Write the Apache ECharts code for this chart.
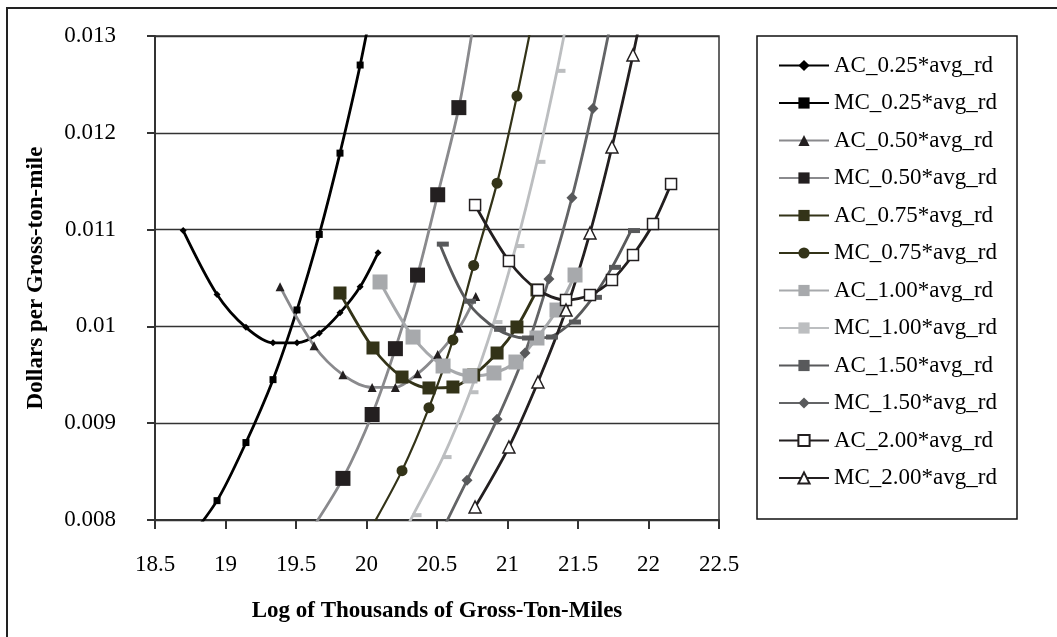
<!DOCTYPE html>
<html>
<head>
<meta charset="utf-8">
<script src="https://cdn.jsdelivr.net/npm/echarts@6/dist/echarts.min.js"></script>
<style>
  html, body { margin: 0; padding: 0; background: #fff; }
  #chart { width: 1057px; height: 637px; }
</style>
</head>
<body>
<div id="chart"></div>
<script>
// x 值（每组 rd 共用）
var x025 = [18.70, 18.94, 19.145, 19.337, 19.507, 19.665, 19.812, 19.955, 20.082];
var x050 = [19.387, 19.628, 19.833, 20.04, 20.205, 20.362, 20.505, 20.655, 20.775];
var x075 = [19.812, 20.046, 20.252, 20.443, 20.613, 20.76, 20.926, 21.067, 21.209];
var x100 = [20.096, 20.33, 20.543, 20.734, 20.904, 21.06, 21.209, 21.351, 21.479];
var x150 = [20.52, 20.713, 20.926, 21.124, 21.294, 21.457, 21.606, 21.741, 21.876];
var x200 = [20.77, 21.01, 21.216, 21.415, 21.585, 21.741, 21.89, 22.032, 22.16];

// 平均成本 / 边际成本
var ac025 = [0.01099, 0.01033, 0.00999, 0.00983, 0.00983, 0.00993, 0.01014, 0.01041, 0.01076];
var mc025 = [0.00773, 0.00820, 0.00880, 0.00945, 0.01017, 0.01095, 0.01179, 0.01270, 0.01365];
var ac050 = [0.01041, 0.00980, 0.00950, 0.00937, 0.00937, 0.00951, 0.00971, 0.00998, 0.01031];
var mc050 = [null, 0.00794, 0.00843, 0.00909, 0.00977, 0.01053, 0.01136, 0.01226, 0.01328];
var ac075 = [0.010345, 0.009777, 0.009477, 0.009364, 0.009374, 0.009498, 0.009725, 0.009994, 0.010376];
var mc075 = [null, 0.00795, 0.00851, 0.00916, 0.00986, 0.01063, 0.01148, 0.01238, 0.0134];
var ac100 = [0.010459, 0.00989, 0.009591, 0.009488, 0.009519, 0.009632, 0.00988, 0.010169, 0.010531];
var mc100 = [0.0074, 0.00805, 0.00865, 0.00932, 0.010045, 0.01083, 0.0117, 0.01264, 0.0136];
var ac150 = [0.01085, 0.01026, 0.00997, 0.00988, 0.00989, 0.010045, 0.0103, 0.01061, 0.01099];
var mc150 = [0.00784, 0.00841, 0.00904, 0.009725, 0.01049, 0.01133, 0.01225, 0.0132, null];
var ac200 = [0.011254, 0.010676, 0.010376, 0.010273, 0.010324, 0.010479, 0.010738, 0.011058, 0.011471];
var mc200 = [0.008134, 0.008754, 0.009426, 0.010169, 0.010965, 0.011853, 0.012804, 0.0138, null];

var serif = 'Liberation Serif, Times New Roman, serif';

function pts(xs, ys) {
    var out = [];
    for (var i = 0; i < xs.length; i++) {
        if (ys[i] != null) out.push([xs[i], ys[i]]);
    }
    return out;
}

function line(name, xs, ys, lineColor, width, symbol, size, fill, border, offset) {
    return {
        name: name,
        type: 'line',
        data: pts(xs, ys),
        smooth: 0.3,
        symbol: symbol,
        symbolSize: size,
        symbolOffset: offset || [0, 0],
        lineStyle: { color: lineColor, width: width },
        itemStyle: {
            color: fill,
            borderColor: border || fill,
            borderWidth: border ? 1.5 : 0
        },
        emphasis: { disabled: true }
    };
}

var chart = echarts.init(document.getElementById('chart'));

var option = {
    animation: false,
    graphic: [
        { type: 'rect', shape: { x: 7, y: 8, width: 1080, height: 660 },
          style: { fill: 'none', stroke: '#222', lineWidth: 2 } },
        { type: 'rect', shape: { x: 757, y: 36, width: 260, height: 483 },
          style: { fill: 'none', stroke: '#111', lineWidth: 1.5 } }
    ],
    legend: {
        orient: 'vertical',
        left: 778,
        top: 54,
        padding: 0,
        itemWidth: 50,
        itemHeight: 14,
        itemGap: 14.5,
        selectedMode: false,
        textStyle: { fontFamily: serif, fontSize: 23, color: '#000', lineHeight: 22 },
        data: ['AC_0.25*avg_rd', 'MC_0.25*avg_rd', 'AC_0.50*avg_rd', 'MC_0.50*avg_rd',
               'AC_0.75*avg_rd', 'MC_0.75*avg_rd', 'AC_1.00*avg_rd', 'MC_1.00*avg_rd',
               'AC_1.50*avg_rd', 'MC_1.50*avg_rd', 'AC_2.00*avg_rd', 'MC_2.00*avg_rd']
    },
    grid: {
        left: 155, top: 36, width: 564, height: 484,
        show: true, borderColor: '#333', borderWidth: 1.5
    },
    xAxis: {
        type: 'value',
        min: 18.5, max: 22.5, interval: 0.5,
        name: 'Log of Thousands of Gross-Ton-Miles',
        nameLocation: 'middle',
        nameGap: 80,
        nameTextStyle: { fontFamily: serif, fontSize: 23, fontWeight: 'bold', color: '#000' },
        axisLine: { lineStyle: { color: '#333', width: 2 } },
        axisTick: { show: true, length: 9, lineStyle: { color: '#333', width: 2 } },
        axisLabel: { fontFamily: serif, fontSize: 23, color: '#000', margin: 33 },
        splitLine: { show: false }
    },
    yAxis: {
        type: 'value',
        min: 0.008, max: 0.013, interval: 0.001,
        name: 'Dollars per Gross-ton-mile',
        nameLocation: 'middle',
        nameGap: 107,
        nameTextStyle: { fontFamily: serif, fontSize: 23, fontWeight: 'bold', color: '#000' },
        axisLine: { show: true, lineStyle: { color: '#333', width: 2 } },
        axisTick: { show: true, length: 8, lineStyle: { color: '#333', width: 2 } },
        axisLabel: { fontFamily: serif, fontSize: 23, color: '#000', margin: 39 },
        splitLine: { show: true, lineStyle: { color: '#333', width: 1.4 } }
    },
    series: [
        line('AC_0.25*avg_rd', x025, ac025, '#000', 2.8, 'diamond', 7, '#000'),
        line('MC_0.25*avg_rd', x025, mc025, '#000', 2.8, 'rect', 7, '#000'),
        line('AC_0.50*avg_rd', x050, ac050, '#8a8a8d', 2.8, 'triangle', 9, '#231f20'),
        line('MC_0.50*avg_rd', x050, mc050, '#8a8a8d', 2.8, 'rect', 15, '#231f20'),
        line('AC_0.75*avg_rd', x075, ac075, '#333318', 2.8, 'rect', 13, '#333318'),
        line('MC_0.75*avg_rd', x075, mc075, '#333318', 2.2, 'circle', 11, '#333318'),
        line('AC_1.00*avg_rd', x100, ac100, '#a7a9ac', 3, 'rect', 15, '#a7a9ac'),
        line('MC_1.00*avg_rd', x100, mc100, '#bcbec0', 2.8, 'rect', [9, 4], '#bcbec0', null, [4, 0]),
        line('AC_1.50*avg_rd', x150, ac150, '#58595b', 2.8, 'rect', [12, 5], '#58595b', null, [3, 0]),
        line('MC_1.50*avg_rd', x150, mc150, '#636466', 2.8, 'diamond', 11, '#58595b'),
        line('AC_2.00*avg_rd', x200, ac200, '#231f20', 2.8, 'rect', 11, '#fff', '#231f20'),
        line('MC_2.00*avg_rd', x200, mc200, '#231f20', 2.8, 'triangle', 12, '#fff', '#231f20')
    ]
};

chart.setOption(option);
</script>
</body>
</html>
